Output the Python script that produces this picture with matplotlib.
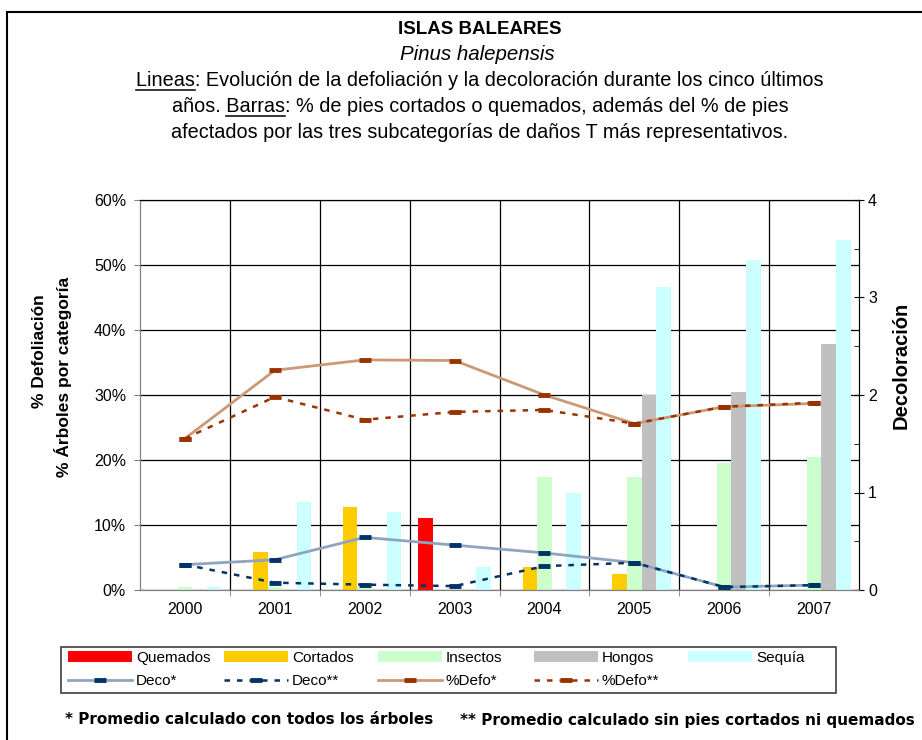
import numpy as np
import matplotlib
matplotlib.use("Agg")
import matplotlib.pyplot as plt
from matplotlib.patches import Patch, Rectangle
from matplotlib.lines import Line2D
from matplotlib.ticker import FuncFormatter, MultipleLocator

plt.rcParams['font.family'] = ['Liberation Sans', 'DejaVu Sans']

# datos
years = ['2000', '2001', '2002', '2003', '2004', '2005', '2006', '2007']
quemados = [0, 0, 0, 11.1, 0, 0, 0, 0]
cortados = [0, 5.9, 12.7, 0, 3.6, 2.5, 0, 0]
insectos = [0.5, 0.5, 0.5, 0, 17.4, 17.4, 19.6, 20.4]
hongos = [0, 0, 0, 0, 0, 30.0, 30.4, 37.8]
sequia = [0.5, 13.6, 12.0, 3.6, 15.0, 46.6, 50.8, 53.8]

defo_todos = [23.3, 33.8, 35.4, 35.3, 30.0, 25.6, 28.2, 28.7]
defo_sin = [23.3, 29.7, 26.2, 27.4, 27.7, 25.6, 28.2, 28.8]
deco_todos = [0.26, 0.31, 0.54, 0.46, 0.38, 0.28, 0.03, 0.05]
deco_sin = [0.26, 0.075, 0.055, 0.04, 0.245, 0.28, 0.03, 0.05]

bar_series = [('Quemados', quemados, '#FF0000'),
              ('Cortados', cortados, '#FFCC00'),
              ('Insectos', insectos, '#CCFFCC'),
              ('Hongos', hongos, '#C0C0C0'),
              ('Sequía', sequia, '#CCFFFF')]

W, H = 922, 740
fig = plt.figure(figsize=(W / 100, H / 100), dpi=100)
ax = fig.add_axes([140 / W, 1 - 590 / H, 719 / W, 390 / H])
ax2 = ax.twinx()

x = np.arange(len(years))
bw = 0.1625
bars = []
for k, (name, vals, col) in enumerate(bar_series):
    b = ax.bar(x + (k - 2) * bw, vals, bw, color=col, label=name, zorder=2)
    bars.append(b)

mk = dict(marker='_', markersize=8, markeredgewidth=3.5)
l_defo1, = ax.plot(x, defo_todos, color='#CC9977', lw=2, zorder=4,
                   markeredgecolor='#993300', label='%Defo*', **mk)
l_defo2, = ax.plot(x, defo_sin, color='#993300', lw=1.8, ls=(0, (2.2, 2.8)),
                   zorder=4, markeredgecolor='#993300', label='%Defo**', **mk)
l_deco1, = ax2.plot(x, deco_todos, color='#8FA5BF', lw=2,
                    markeredgecolor='#003366', label='Deco*', **mk)
l_deco2, = ax2.plot(x, deco_sin, color='#003366', lw=1.8, ls=(0, (2.2, 2.8)),
                    markeredgecolor='#003366', label='Deco**', **mk)

ax.set_xlim(-0.5, len(years) - 0.5)
ax.set_ylim(0, 60)
ax2.set_ylim(0, 4)
ax.yaxis.set_major_locator(MultipleLocator(10))
ax.yaxis.set_major_formatter(FuncFormatter(lambda v, p: '%d%%' % round(v)))
ax.set_xticks(x)
ax.set_xticklabels(years)
ax.set_xticks(np.arange(0.5, len(years) - 0.5, 1), minor=True)
ax.set_axisbelow(True)
ax.grid(axis='y', which='major', color='black', lw=0.9)
ax.grid(axis='x', which='minor', color='black', lw=0.9)

ax.tick_params(axis='x', which='major', length=0, pad=9, labelsize=11.5)
ax.tick_params(axis='x', which='minor', length=4, direction='out', color='#808080')
ax.tick_params(axis='y', length=4, direction='out', pad=6, labelsize=11.5, color='#808080')
ax2.yaxis.set_major_locator(MultipleLocator(1))
ax2.yaxis.set_minor_locator(MultipleLocator(0.5))
ax2.tick_params(axis='y', which='major', direction='inout', length=7, pad=3, labelsize=11.5)
ax2.tick_params(axis='y', which='minor', direction='in', length=3.5)

for sp in ['left', 'bottom']:
    ax.spines[sp].set_color('#808080')
    ax2.spines[sp].set_color('#808080')
ax.spines['top'].set_color('black')
ax2.spines['right'].set_color('black')

fig.text(40 / W, 1 - 351 / H, '% Defoliación', rotation=90, ha='center', va='center',
         fontsize=12.5, fontweight='bold')
fig.text(63 / W, 1 - 377 / H, '% Árboles por categoría', rotation=90, ha='center', va='center',
         fontsize=12.5, fontweight='bold')
fig.text(901 / W, 1 - 365 / H, 'Decoloración', rotation=90, ha='center', va='center',
         fontsize=14.5, fontweight='bold')

# titulos
cx = 480 / W
tprops = dict(fontsize=14.3)
fig.text(cx, 1 - 30 / H, 'ISLAS BALEARES', ha='center', va='center', fontweight='bold',
         fontsize=13.5)
fig.text(477 / W, 1 - 55 / H, 'Pinus halepensis', ha='center', va='center', style='italic',
         fontsize=14.8)
l1 = 'Lineas: Evolución de la defoliación y la decoloración durante los cinco últimos'
l2 = 'años. Barras: % de pies cortados o quemados, además del % de pies'
l3 = 'afectados por las tres subcategorías de daños T más representativos.'
t1 = fig.text(cx, 1 - 80 / H, l1, ha='center', va='center', **tprops)
t2 = fig.text(cx, 1 - 106 / H, l2, ha='center', va='center', **tprops)
fig.text(cx, 1 - 132 / H, l3, ha='center', va='center', **tprops)

rend = fig.canvas.get_renderer()


def text_w(s):
    tmp = fig.text(0, 0, s, **tprops)
    w = tmp.get_window_extent(rend).width
    tmp.remove()
    return w


def underline(t, prefix, word, y_px):
    bb = t.get_window_extent(rend)
    x0 = bb.x0 + text_w(prefix + word) - text_w(word)
    x1 = x0 + text_w(word)
    fig.add_artist(Line2D([x0 / W, x1 / W], [1 - y_px / H] * 2,
                          transform=fig.transFigure, color='black', lw=1.1))


underline(t1, '', 'Lineas', 90)
underline(t2, 'años. ', 'Barras', 116)

# leyenda por columnas
col_x = [68, 224, 378, 534, 688]
line_h = [l_deco1, l_deco2, l_defo1, l_defo2, None]
for i, (name, vals, col) in enumerate(bar_series):
    hs = [bars[i]]
    if line_h[i] is not None:
        hs.append(line_h[i])
    leg = fig.legend(handles=hs, loc='upper left',
                     bbox_to_anchor=(col_x[i] / W, 1 - 651 / H),
                     frameon=False, fontsize=11, handlelength=4.2,
                     handleheight=0.7, handletextpad=0.25, labelspacing=0.6,
                     borderpad=0, borderaxespad=0)
fig.add_artist(Rectangle((61 / W, 1 - 693 / H), 775 / W, 46 / H, transform=fig.transFigure,
                         fill=False, edgecolor='#404040', lw=1.2))

fig.text(65 / W, 1 - 720 / H, '* Promedio calculado con todos los árboles', ha='left',
         va='center', fontsize=11, fontweight='bold', family='DejaVu Sans')
fig.text(915 / W, 1 - 720 / H, '** Promedio calculado sin pies cortados ni quemados',
         ha='right', va='center', fontsize=11, fontweight='bold', family='DejaVu Sans')

# marco del area del grafico
fig.add_artist(Rectangle((7 / W, -0.1), 1.2, 1 - 12 / H + 0.1, transform=fig.transFigure,
                         fill=False, edgecolor='black', lw=1.5))

fig.savefig('out.png', dpi=100)
